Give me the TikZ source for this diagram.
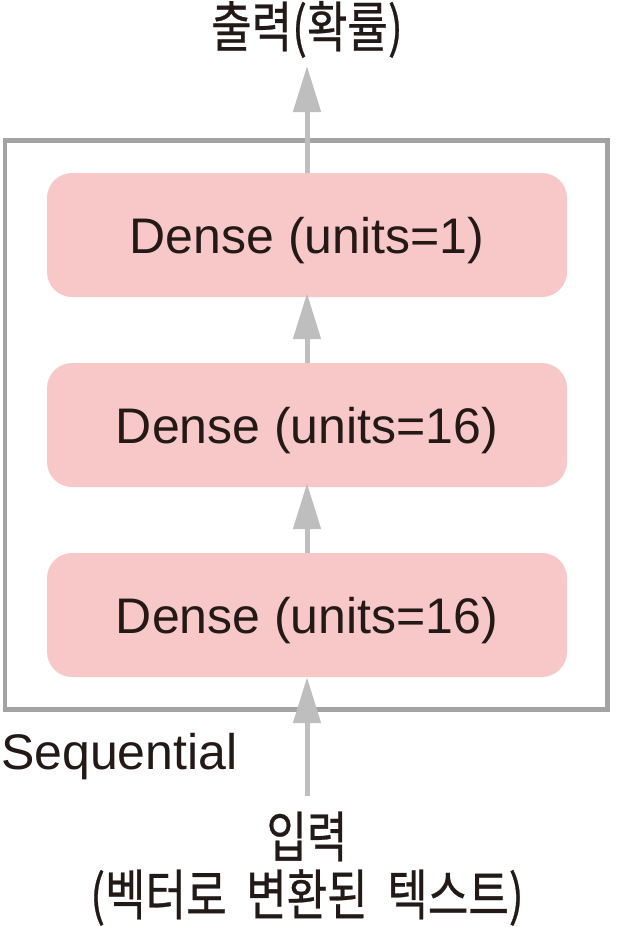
\documentclass[tikz,border=0pt]{standalone}
\usepackage{fontspec}
\setmainfont{Liberation Sans}
\newfontfamily\kr[FakeStretch=0.80,WordSpace=2,FakeBold=0.5]{Noto Sans CJK KR}
\usetikzlibrary{arrows.meta}
\definecolor{boxpink}{HTML}{F8C8C8}
\definecolor{framegray}{HTML}{A3A3A3}
\definecolor{arrgray}{HTML}{BEBEBE}
\definecolor{ink}{HTML}{231916}
\tikzset{
  layerbox/.style={rectangle, rounded corners=25pt, fill=boxpink, draw=none,
    minimum width=520pt, minimum height=124pt, inner sep=0pt,
    text=ink, font=\fontsize{50}{58}\selectfont, text height=36pt, text depth=0pt},
  framebox/.style={rectangle, draw=framegray, line width=4.5pt,
    minimum width=602.5pt, minimum height=569pt, inner sep=0pt},
  arr/.style={draw=arrgray, line width=5pt, -{Triangle[length=46pt,width=27pt]}, color=arrgray},
  krlabel/.style={inner sep=0pt, text=ink, font=\kr\fontsize{55}{58}\selectfont, anchor=base},
  enlabel/.style={inner sep=0pt, text=ink, font=\fontsize{50}{58}\selectfont},
}
\begin{document}
\begin{tikzpicture}[x=1pt,y=-1pt]
\useasboundingbox (0,0) rectangle (617,927);
\node[framebox] (seq) at (306.25,425) {};
\node[layerbox] (b1) at (307,235) {Dense (units=1)};
\node[layerbox] (b2) at (307,425) {Dense (units=16)};
\node[layerbox] (b3) at (307,615) {Dense (units=16)};
\coordinate (outtip) at (307,66);
\coordinate (intail) at (307,796);
\draw[arr] (b1.north) -- (outtip);
\draw[arr] (b2.north) -- ([yshift=4pt]b1.south);
\draw[arr] (b3.north) -- ([yshift=4pt]b2.south);
\draw[arr] (intail) -- (b3.south);
\node[krlabel] (out) at (307,47) {출력(확률)};
\node[enlabel, anchor=base west] (seqlabel) at (1,769) {Sequential};
\node[krlabel] (in1) at (307,857) {입력};
\node[krlabel] (in2) at (307,915) {(벡터로 변환된 텍스트)};
\end{tikzpicture}
\end{document}
